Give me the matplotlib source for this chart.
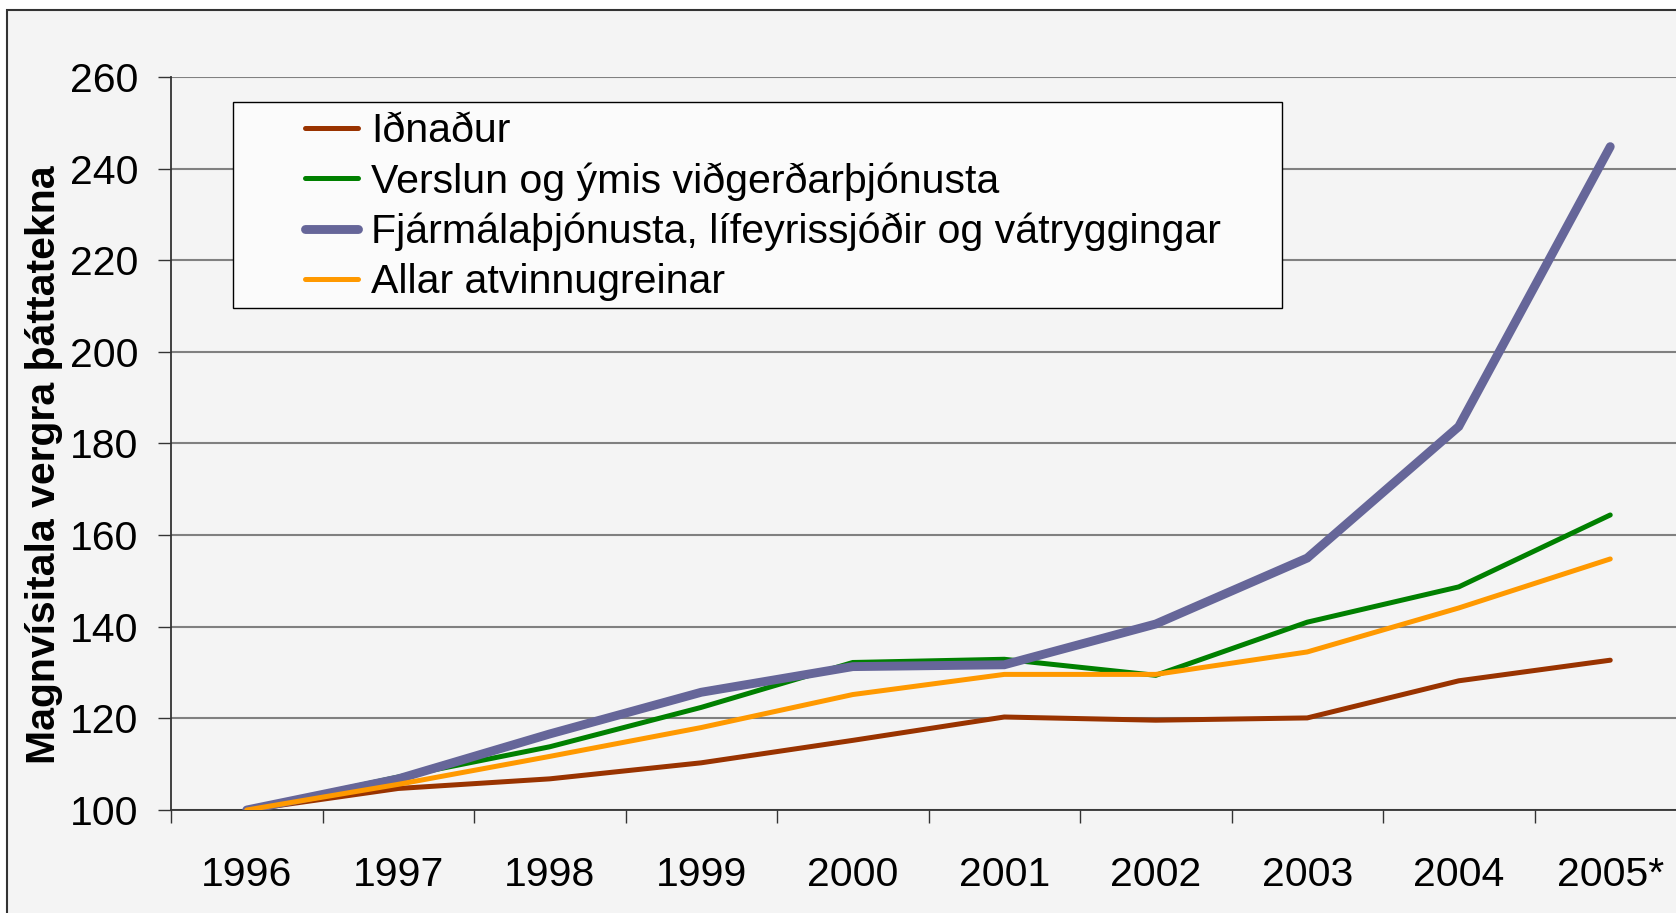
import matplotlib
matplotlib.use("Agg")
import matplotlib.pyplot as plt
from matplotlib.patches import Rectangle

years = ["1996", "1997", "1998", "1999", "2000", "2001", "2002", "2003", "2004", "2005*"]
idnadur = [100, 104.7, 106.8, 110.3, 115.2, 120.3, 119.6, 120.1, 128.2, 132.7]
verslun = [100, 107.2, 113.8, 122.4, 132.2, 132.9, 129.4, 141.0, 148.7, 164.4]
fjarmal = [100, 106.8, 116.6, 125.7, 131.3, 131.7, 140.6, 155.0, 183.7, 244.8]
allar = [100, 105.6, 111.7, 118.0, 125.2, 129.6, 129.6, 134.5, 144.1, 154.8]
series_labels = ["Iðnaður", "Verslun og ýmis viðgerðarþjónusta",
                 "Fjármálaþjónusta, lífeyrissjóðir og vátryggingar", "Allar atvinnugreinar"]
y_ticks = [100, 120, 140, 160, 180, 200, 220, 240, 260]
y_label = "Magnvísitala vergra þáttatekna"

plt.rcParams['font.family'] = ['Liberation Sans', 'DejaVu Sans']

W, H = 1676, 913
fig = plt.figure(figsize=(W / 100, H / 100), dpi=100, facecolor='white')

# outer frame
fig.patches.append(Rectangle((7 / W, -0.1), 1.2, 1.1 - 10 / H, transform=fig.transFigure,
                             facecolor='#f4f4f4', edgecolor='#333333', lw=1.5, zorder=-5))

ax = fig.add_axes([171 / W, 1 - 810 / H, 1515 / W, 733 / H])
ax.set_facecolor('none')

x = list(range(len(years)))
colors = ['#993300', '#008000', '#666699', '#FF9900']
widths = [3.6, 3.6, 6.4, 3.6]
data = [idnadur, verslun, fjarmal, allar]
handles = {}
for i in [0, 1, 2, 3]:
    (ln,) = ax.plot(x, data[i], color=colors[i], lw=widths[i], solid_capstyle='round',
                    solid_joinstyle='miter', label=series_labels[i], zorder=3 + (1 if i == 3 else 0))
    handles[i] = ln

ax.set_xlim(-0.5, len(years) - 0.5)
ax.set_ylim(100, 260)
ax.set_yticks(y_ticks)
ax.set_yticklabels([str(v) for v in y_ticks])
ax.set_xticks([i - 0.5 for i in range(len(years) + 1)])
ax.set_xticklabels([])
ax.set_xticks(x, minor=True)
ax.set_xticklabels(years, minor=True)
ax.tick_params(axis='x', which='major', direction='out', length=9.4, width=1, color='#333333')
ax.tick_params(axis='x', which='minor', length=0, pad=33, labelsize=29.5)
ax.tick_params(axis='y', direction='out', length=9.4, width=1, color='#333333', pad=14, labelsize=29.5)

ax.yaxis.grid(True, color='#808080', lw=1.5, zorder=1)
ax.set_axisbelow(True)
for s in ['top', 'right']:
    ax.spines[s].set_visible(False)
for s in ['left', 'bottom']:
    ax.spines[s].set_color('#333333')
    ax.spines[s].set_linewidth(1.3)

fig.text(44 / W, 1 - 465 / H, y_label, rotation=90, ha='center', va='center',
         fontsize=29.5, fontweight='bold')

# legend frame
ax.add_patch(Rectangle(((233 - 171) / 1515, (810 - 308) / 733), (1282 - 233) / 1515, (308 - 102) / 733,
                       transform=ax.transAxes, facecolor='#fbfbfb', edgecolor='black', lw=1.0, zorder=6))
leg = ax.legend([handles[i] for i in range(4)], series_labels, loc='upper left',
                bbox_to_anchor=((305 - 171) / 1515, 0.952), frameon=False, fontsize=29.6,
                borderpad=0, borderaxespad=0, handlelength=1.3, handletextpad=0.3,
                labelspacing=0.29)
leg.set_zorder(7)

fig.savefig('out.png', dpi=100, facecolor='white')
